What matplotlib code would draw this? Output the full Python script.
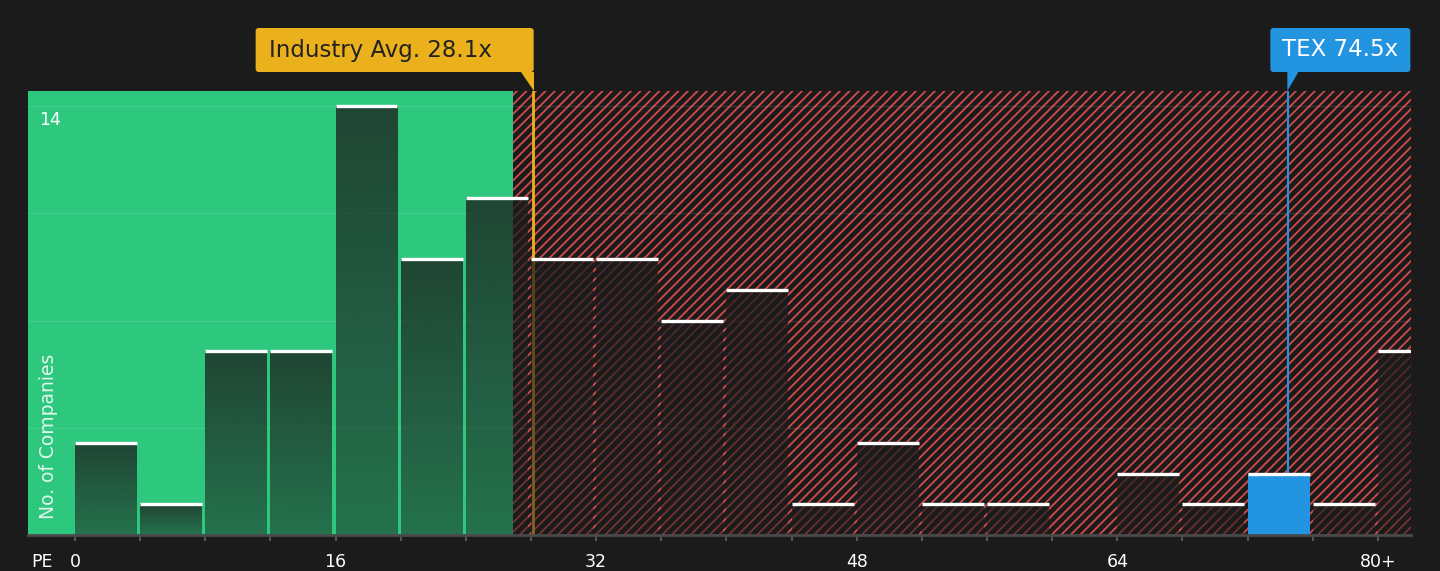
import matplotlib
matplotlib.use("Agg")
import matplotlib.pyplot as plt
import matplotlib.colors as mcolors
import numpy as np
from matplotlib.patches import Rectangle, FancyBboxPatch, Polygon
from matplotlib.transforms import IdentityTransform, blended_transform_factory

# histogram of PE ratios (bin left edges, width 4)
bin_left = [0, 4, 8, 12, 16, 20, 24, 28, 32, 36, 40, 44, 48, 52, 56, 60, 64, 68, 72, 76, 80]
counts = [3, 1, 6, 6, 14, 9, 11, 9, 9, 7, 8, 1, 3, 1, 1, 0, 2, 1, 2, 1, 6]
tick_vals = [0, 16, 32, 48, 64, 80]
tick_labels = ["0", "16", "32", "48", "64", "80+"]
y_ticks = [3.5, 7, 10.5, 14]
industry_avg = 28.1
tex_pe = 74.5
fair_limit = 26.9

BG = "#1b1b1b"
GREEN = "#2dc77e"
RED = "#d24b4b"
YELLOW = "#ebb11c"
BLUE = "#2394df"
W, H = 1440, 571
DPI = 114          # chosen so the hatch spacing matches (~9.5 px)
S = 100 / DPI      # keep sizes as if drawn at 100 dpi

plt.rcParams["hatch.linewidth"] = 1.15

fig = plt.figure(figsize=(W / DPI, H / DPI), dpi=DPI, facecolor=BG)
ax = fig.add_axes([28 / W, 36 / H, 1383 / W, 444 / H])
ax.set_facecolor(BG)
xmin, xmax = -2.886, 82.03
ymin, ymax = 0, 14.49

# green "fair" zone and red hatched "expensive" zone
ax.axvspan(xmin, fair_limit, color=GREEN, lw=0, zorder=0)
ax.add_patch(Rectangle((fair_limit, ymin), xmax - fair_limit, ymax - ymin,
                       facecolor="none", edgecolor=RED, hatch="////", lw=0, zorder=0.5))

for y in y_ticks:
    ax.axhline(y, color="white", alpha=0.1, lw=1 * S, zorder=1)

ax.axvline(industry_avg, color=YELLOW, lw=2 * S, zorder=1.5)
ax.axvline(tex_pe, color=BLUE, lw=1.5 * S, zorder=1.5)

bw = 3.8
rgb = mcolors.to_rgb("#1c1c1c")
grad = np.zeros((64, 1, 4))
grad[..., 0], grad[..., 1], grad[..., 2] = rgb
grad[:, 0, 3] = np.linspace(0.5, 0.76, 64)

for left, c in zip(bin_left, counts):
    if c == 0:
        continue
    if left <= tex_pe < left + 4:
        ax.add_patch(Rectangle((left, 0), bw, c, facecolor=BLUE, lw=0, zorder=2))
    else:
        ax.imshow(grad, extent=(left, left + bw, 0, c), origin="lower",
                  aspect="auto", interpolation="bilinear", zorder=2)
    ax.plot([left, left + bw], [c, c], color="white", lw=2.4 * S,
            solid_capstyle="butt", zorder=4)

ax.set_xlim(xmin, xmax)
ax.set_ylim(ymin, ymax)

ax.set_xticks(np.arange(0, 81, 4))
ax.set_xticklabels([tick_labels[tick_vals.index(v)] if v in tick_vals else ""
                    for v in range(0, 81, 4)])
ax.tick_params(axis="x", colors="#555555", length=4.3 * S, width=1.5 * S,
               labelcolor="white", labelsize=12.5 * S, pad=9 * S)
ax.set_yticks([])
for s in ["top", "left", "right"]:
    ax.spines[s].set_visible(False)
ax.spines["bottom"].set_color("#4a4a4a")
ax.spines["bottom"].set_linewidth(2 * S)

blend = blended_transform_factory(ax.transAxes, ax.transData)
ax.text(0.008, 13.54, "14", transform=blend, ha="left", va="center",
        color="white", fontsize=12.5 * S, zorder=5)
ax.text(0.0145, 0.52, "No. of Companies", transform=blend, rotation=90,
        ha="center", va="bottom", color="white", alpha=0.85, fontsize=13.5 * S, zorder=5)
fig.text(42 / W, 1 - 562 / H, "PE", ha="center", va="center", color="white",
         fontsize=12.5 * S)

# callout boxes
px_avg = ax.transData.transform((industry_avg, 0))[0]
px_tex = ax.transData.transform((tex_pe, 0))[0]
ident = IdentityTransform()

fig.add_artist(FancyBboxPatch((px_avg - 277, H - 72), 278, 44,
                              boxstyle="round,pad=0,rounding_size=3",
                              fc=YELLOW, ec="none", transform=ident))
fig.add_artist(Polygon([(px_avg - 12, H - 72), (px_avg + 1, H - 72), (px_avg + 1, H - 91)],
                       closed=True, fc=YELLOW, ec="none", transform=ident))
fig.text(px_avg - 264, H - 50, f"Industry Avg. {industry_avg}x", transform=ident,
         ha="left", va="center", color="#222222", fontsize=16.5 * S)

fig.add_artist(FancyBboxPatch((px_tex - 18, H - 72), 140, 44,
                              boxstyle="round,pad=0,rounding_size=3",
                              fc=BLUE, ec="none", transform=ident))
fig.add_artist(Polygon([(px_tex - 1, H - 72), (px_tex + 10, H - 72), (px_tex - 1, H - 91)],
                       closed=True, fc=BLUE, ec="none", transform=ident))
fig.text(px_tex + 52, H - 50, f"TEX {tex_pe}x", transform=ident,
         ha="center", va="center", color="white", fontsize=16.5 * S)

fig.savefig("out.png", dpi=DPI, facecolor=BG)
